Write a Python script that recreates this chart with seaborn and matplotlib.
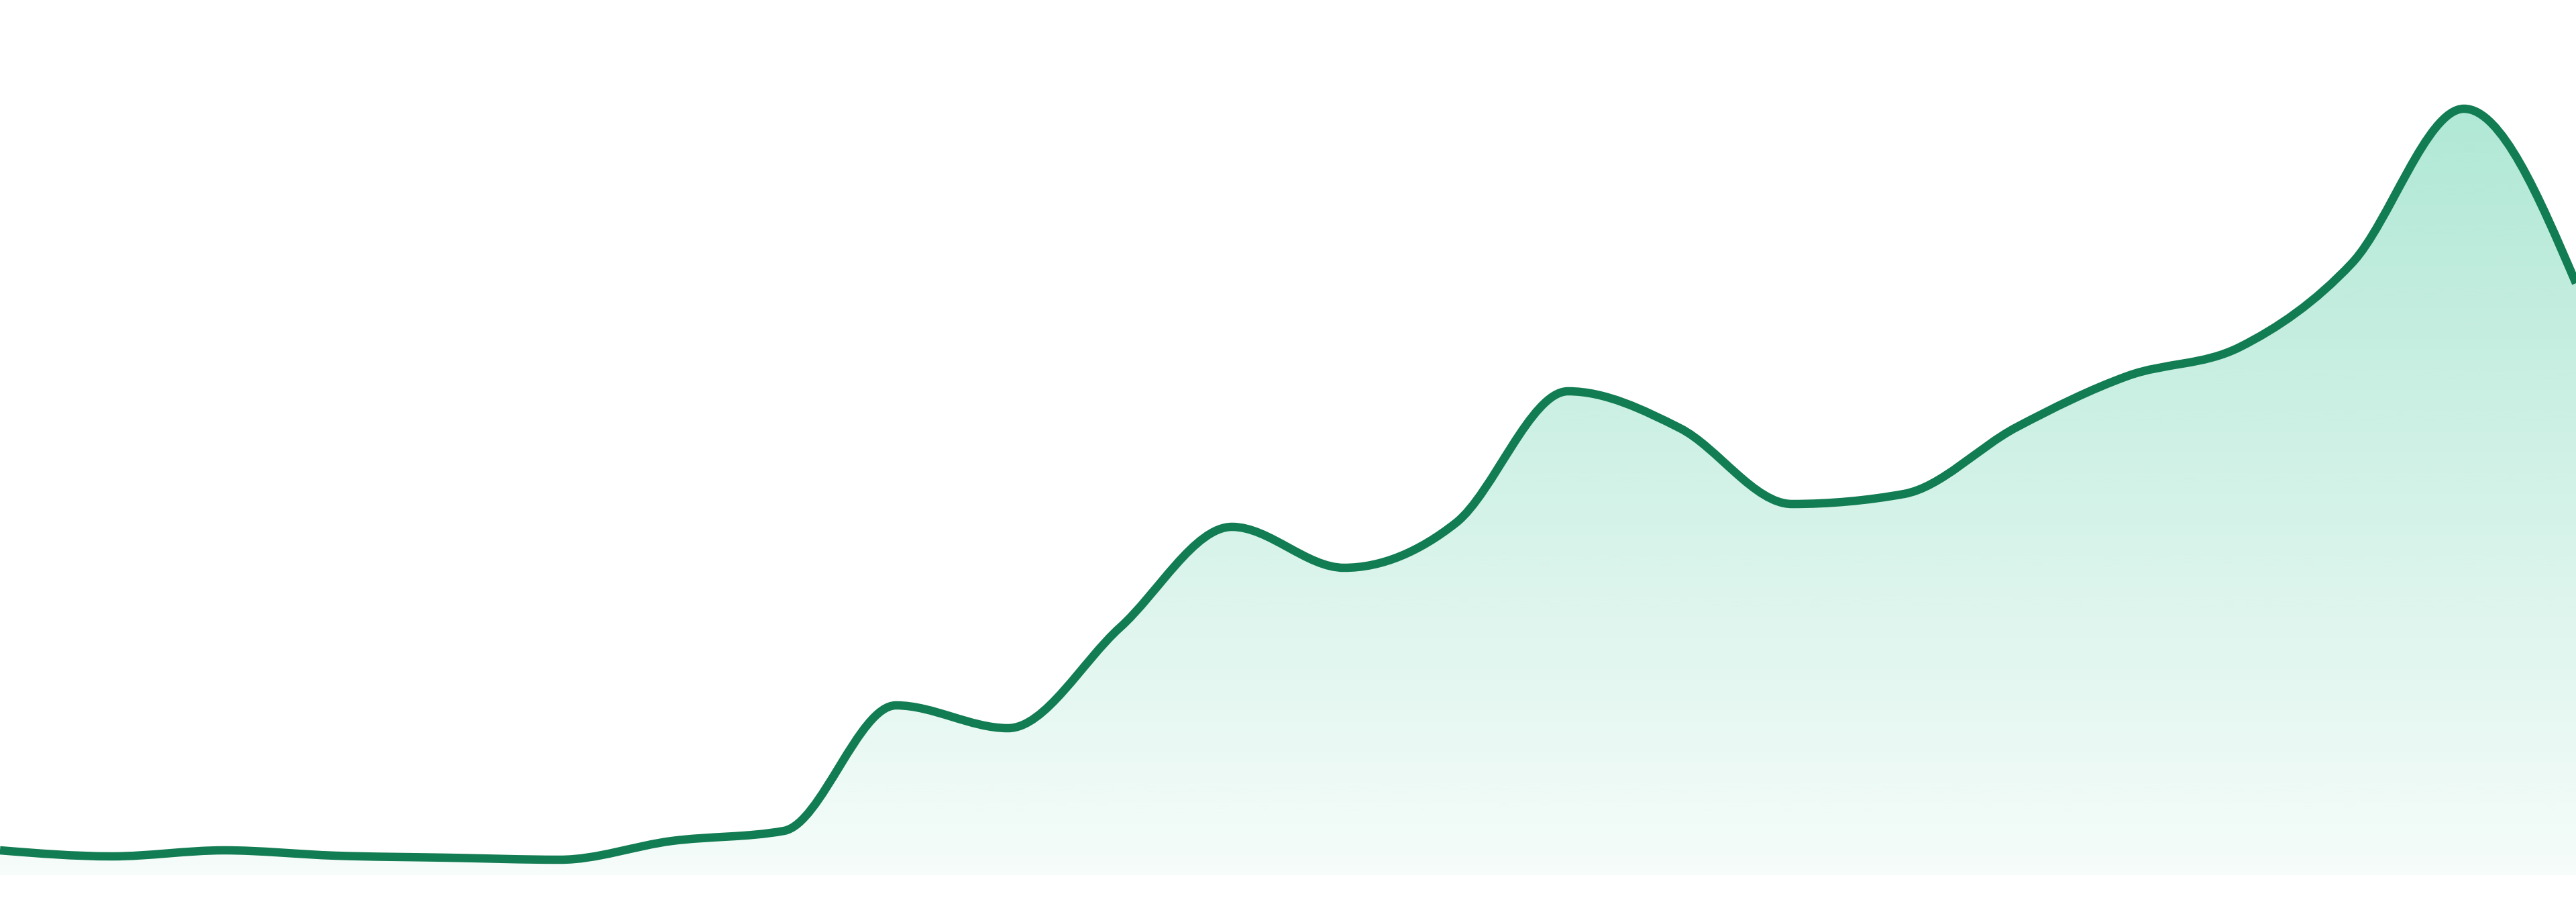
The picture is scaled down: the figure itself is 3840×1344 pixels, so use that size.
import numpy as np
import seaborn as sns
import matplotlib.pyplot as plt
from matplotlib.path import Path
from matplotlib.patches import PathPatch

# values (24 evenly spaced points, no axis labels shown)
periods = list(range(24))
values = [3.7, 2.8, 3.7, 2.9, 2.6, 2.3, 5.1, 6.6, 25.3, 21.9, 36.9, 51.9,
          45.8, 52.5, 72.1, 66.6, 55.3, 56.8, 66.7, 74.4, 78.7, 91.2, 114.2, 88.2]

line_color = "#127c53"
fill_color = "#10b981"


def monotone_tangents(x, y):
    # same slopes as d3.curveMonotoneX
    x = np.asarray(x, float)
    y = np.asarray(y, float)
    h = np.diff(x)
    s = np.diff(y) / h
    t = np.zeros(len(x))
    for i in range(1, len(x) - 1):
        h0, h1 = h[i - 1], h[i]
        s0, s1 = s[i - 1], s[i]
        p = (s0 * h1 + s1 * h0) / (h0 + h1)
        t[i] = (np.sign(s0) + np.sign(s1)) * min(abs(s0), abs(s1), 0.5 * abs(p))
    t[0] = (3 * s[0] - t[1]) / 2
    t[-1] = (3 * s[-1] - t[-2]) / 2
    return t


def curve_path(x, y):
    t = monotone_tangents(x, y)
    verts = [(x[0], y[0])]
    codes = [Path.MOVETO]
    for i in range(len(x) - 1):
        dx = (x[i + 1] - x[i]) / 3
        verts += [(x[i] + dx, y[i] + dx * t[i]),
                  (x[i + 1] - dx, y[i + 1] - dx * t[i + 1]),
                  (x[i + 1], y[i + 1])]
        codes += [Path.CURVE4] * 3
    return verts, codes


sns.set_theme(style="white")

fig = plt.figure(figsize=(38.4, 13.44), dpi=100)
ax = fig.add_axes([0, 40 / 1344, 1, 1304 / 1344])
ax.set_xlim(periods[0], periods[-1])
ax.set_ylim(0, 130.4)

verts, codes = curve_path(periods, values)

# area under the curve with vertical gradient
area_verts = verts + [(periods[-1], 0), (periods[0], 0), (periods[0], values[0])]
area_codes = codes + [Path.LINETO, Path.LINETO, Path.CLOSEPOLY]
area = PathPatch(Path(area_verts, area_codes), facecolor="none", edgecolor="none")
ax.add_patch(area)

rgb = np.array(plt.matplotlib.colors.to_rgb(fill_color))
n = 256
alpha = np.linspace(0.04, 0.33, n)
grad = np.zeros((n, 1, 4))
grad[:, 0, :3] = rgb
grad[:, 0, 3] = alpha
img = ax.imshow(grad, extent=[periods[0], periods[-1], 0, max(values)],
                origin="lower", aspect="auto", interpolation="bilinear", zorder=1)
img.set_clip_path(area)

line = PathPatch(Path(verts, codes), facecolor="none", edgecolor=line_color,
                 linewidth=9.0, capstyle="butt", joinstyle="round", zorder=2)
ax.add_patch(line)

ax.set_axis_off()
sns.despine(ax=ax, left=True, bottom=True)

fig.savefig("out.png", dpi=100, facecolor="white")
